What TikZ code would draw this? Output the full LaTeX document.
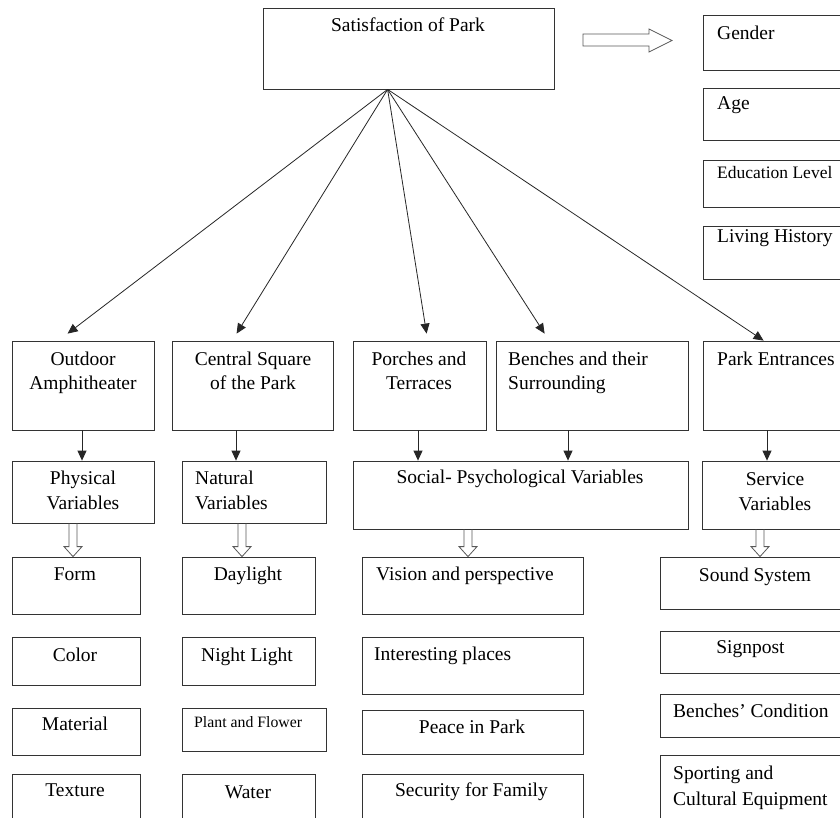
\documentclass[tikz,border=0pt]{standalone}
\usepackage{fontspec}
\setmainfont{Liberation Serif}
\usetikzlibrary{arrows.meta,fit,calc}
\newcommand{\hdown}[3]{%
  \draw[harrow] ({#1-4},0 |- #2.south) -- ($({#1-4},0 |- #3.north)+(0,-10)$)
    -- ($({#1-9},0 |- #3.north)+(0,-10)$) -- ({#1},0 |- #3.north)
    -- ($({#1+9},0 |- #3.north)+(0,-10)$) -- ($({#1+4},0 |- #3.north)+(0,-10)$)
    -- ({#1+4},0 |- #2.south);}
\begin{document}
\begin{tikzpicture}[x=1pt,y=-1pt,
  box/.style={draw=black!80,line width=0.8pt,inner sep=0pt,rectangle},
  txt/.style={inner sep=0pt,font=\fontsize{19.5}{23}\selectfont},
  stxt/.style={inner sep=0pt,font=\fontsize{17.5}{21}\selectfont},
  xstxt/.style={inner sep=0pt,font=\fontsize{15.8}{19}\selectfont},
  arr/.style={draw=black!85,line width=0.8pt,-{Triangle[length=10pt,width=9pt]}},
  harrow/.style={draw=black!65,line width=0.8pt}]
\clip (0,0) rectangle (840,818);
\fill[white] (0,0) rectangle (840,818);
% boxes
\node[box,fit={(263,8)(554,89)}] (sat) {};
\node[box,fit={(703,15)(850,70)}] (gen) {};
\node[box,fit={(703,88)(850,140)}] (age) {};
\node[box,fit={(703,160)(850,207)}] (edu) {};
\node[box,fit={(703,226)(850,279)}] (liv) {};
\node[box,fit={(12,341)(154,430)}] (oa) {};
\node[box,fit={(172,341)(333,430)}] (cs) {};
\node[box,fit={(353,341)(486,430)}] (pt) {};
\node[box,fit={(496,341)(688,430)}] (bs) {};
\node[box,fit={(703,341)(850,430)}] (pe) {};
\node[box,fit={(12,461)(154,523)}] (pv) {};
\node[box,fit={(182,461)(326,523)}] (nv) {};
\node[box,fit={(353,461)(688,529)}] (sp) {};
\node[box,fit={(702,461)(850,529)}] (sv) {};
\node[box,fit={(12,557)(140,614)}] (form) {};
\node[box,fit={(12,637)(140,685)}] (color) {};
\node[box,fit={(12,708)(140,755)}] (mat) {};
\node[box,fit={(12,774)(140,830)}] (tex) {};
\node[box,fit={(182,557)(315,614)}] (day) {};
\node[box,fit={(182,637)(315,685)}] (night) {};
\node[box,fit={(182,708)(326,751)}] (plant) {};
\node[box,fit={(182,774)(315,830)}] (water) {};
\node[box,fit={(362,557)(583,614)}] (vis) {};
\node[box,fit={(362,637)(583,694)}] (int) {};
\node[box,fit={(362,710)(583,754)}] (peace) {};
\node[box,fit={(362,774)(583,830)}] (sec) {};
\node[box,fit={(660,557)(850,609)}] (sound) {};
\node[box,fit={(660,631)(850,673)}] (sign) {};
\node[box,fit={(660,694)(850,737)}] (bc) {};
\node[box,fit={(660,755)(850,830)}] (sport) {};
% texts
\node[txt,anchor=base] (satt) at (408,32) {Satisfaction of Park};
\node[txt,anchor=base west] (gent) at (717,40) {Gender};
\node[txt,anchor=base west] (aget) at (717,110) {Age};
\node[stxt,anchor=base west] (edut) at (717,178.5) {Education Level};
\node[txt,anchor=base west] (livt) at (717,243) {Living History};
\node[txt,anchor=base] (oat1) at (83,365.5) {Outdoor};
\node[txt,anchor=base] (oat2) at (83,389.5) {Amphitheater};
\node[txt,anchor=base] (cst1) at (253,365.5) {Central Square};
\node[txt,anchor=base] (cst2) at (253,389.5) {of the Park};
\node[txt,anchor=base] (ptt1) at (419,365) {Porches and};
\node[txt,anchor=base] (ptt2) at (419,389.5) {Terraces};
\node[txt,anchor=base west] (bst1) at (508,365) {Benches and their};
\node[txt,anchor=base west] (bst2) at (508,389.5) {Surrounding};
\node[txt,anchor=base west] (pet) at (717,365) {Park Entrances};
\node[txt,anchor=base] (pvt1) at (83,484) {Physical};
\node[txt,anchor=base] (pvt2) at (83,509) {Variables};
\node[txt,anchor=base west] (nvt1) at (195,484) {Natural};
\node[txt,anchor=base west] (nvt2) at (195,509) {Variables};
\node[txt,anchor=base] (spt) at (520,483) {Social- Psychological Variables};
\node[txt,anchor=base] (svt1) at (775,485) {Service};
\node[txt,anchor=base] (svt2) at (775,510) {Variables};
\node[txt,anchor=base] (formt) at (75,580) {Form};
\node[txt,anchor=base] (colort) at (75,661) {Color};
\node[txt,anchor=base] (matt) at (75,730) {Material};
\node[txt,anchor=base] (text1) at (75,796.5) {Texture};
\node[txt,anchor=base] (dayt) at (248,580) {Daylight};
\node[txt,anchor=base] (nightt) at (247,661) {Night Light};
\node[xstxt,anchor=base west] (plantt) at (194,727) {Plant and Flower};
\node[txt,anchor=base] (watert) at (248,798) {Water};
\node[txt,anchor=base west] (vist) at (376,580) {Vision and perspective};
\node[txt,anchor=base west] (intt) at (374,660) {Interesting places};
\node[txt,anchor=base] (peacet) at (472,733) {Peace in Park};
\node[txt,anchor=base] (sect) at (471.5,796.5) {Security for Family};
\node[txt,anchor=base] (soundt) at (755,581) {Sound System};
\node[txt,anchor=base] (signt) at (750.5,653) {Signpost};
\node[txt,anchor=base west] (bct) at (673,717) {Benches’ Condition};
\node[txt,anchor=base west] (sportt1) at (673,779) {Sporting and};
\node[txt,anchor=base west] (sportt2) at (673,805) {Cultural Equipment};
% fan arrows
\coordinate (fan) at ($(sat.south west)+(125,0)$);
\draw[arr] (fan) -- ($(oa.north west)+(56,-7)$);
\draw[arr] (fan) -- ($(cs.north west)+(65,-7)$);
\draw[arr] (fan) -- ($(pt.north west)+(74,-7)$);
\draw[arr] (fan) -- ($(bs.north west)+(49,-7)$);
\draw[arr] (fan) -- ($(pe.north west)+(61,0)$);
% down arrows
\draw[arr] (82,0 |- oa.south) -- (82,0 |- pv.north);
\draw[arr] (236,0 |- cs.south) -- (236,0 |- nv.north);
\draw[arr] (418,0 |- pt.south) -- (418,0 |- sp.north);
\draw[arr] (568,0 |- bs.south) -- (568,0 |- sp.north);
\draw[arr] (767,0 |- pe.south) -- (767,0 |- sv.north);
% hollow arrows
\hdown{73}{pv}{form}
\hdown{242}{nv}{day}
\hdown{468}{sp}{vis}
\hdown{760}{sv}{sound}
\draw[harrow] (583,34) -- (649,34) -- (649,29) -- (672,40.5) -- (649,52) -- (649,46) -- (583,46) -- cycle;
\end{tikzpicture}
\end{document}
